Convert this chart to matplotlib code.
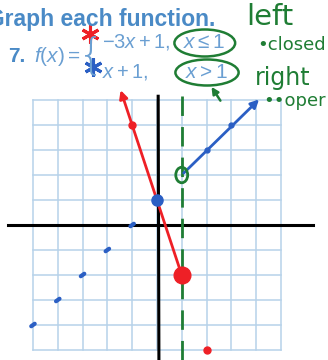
import matplotlib
matplotlib.use("Agg")
import matplotlib.pyplot as plt
from matplotlib.patches import Ellipse, FancyArrowPatch

plt.rcParams['mathtext.fontset'] = 'custom'
plt.rcParams['mathtext.rm'] = 'Liberation Sans'
plt.rcParams['mathtext.it'] = 'Liberation Sans:italic'

# piece 1: f(x) = -3x + 1 for x <= 1 (red)
red_line_x = [-1.5, -1, 0, 1]
red_line_y = [5.5, 4, 1, -2]
red_small_x = [-1, 2]
red_small_y = [4, -5]
red_big = (1, -2)

# piece 2: f(x) = x + 1 for x > 1 (blue)
blue_line_x = [1, 2, 3, 4.2]
blue_line_y = [2, 3, 4, 5.1]
blue_small_x = [2, 3]
blue_small_y = [3, 4]
blue_dash_x = [-1, -2, -3, -4, -5]
blue_dash_y = [0, -1, -2, -3, -4]
blue_big = (0, 1)

grid_ticks = list(range(-5, 6))
boundary_x = 1
open_point = (1, 2)

TEXT_BLUE = '#4a8ac6'
MATH_BLUE = '#6a9fd2'
GRID = '#b7d2ea'
RED = '#ee2026'
BLUE = '#2b5fc4'
GREEN = '#1f7d34'

fig = plt.figure(figsize=(3.28, 3.6), dpi=100)
ax = fig.add_axes([0, 0, 1, 1])
ax.set_xlim(-6.33, 6.9)
ax.set_ylim(-5.4, 9.0)
ax.axis('off')

# graph paper
for g in grid_ticks:
    ax.plot([g, g], [-5, 5], color=GRID, lw=1.1, zorder=1)
    ax.plot([-5, 5], [g, g], color=GRID, lw=1.1, zorder=1)

# hand-drawn axes
ax.plot([-6.0, 6.3], [0, 0], color='black', lw=2.2, zorder=3)
ax.plot([0.05, 0.08], [5.15, -5.4], color='black', lw=2.2, zorder=3)

# boundary x = 1
ax.plot([boundary_x, boundary_x], [5.15, -5.4], color=GREEN, lw=2.0,
        dashes=(7, 4), zorder=4)

# red piece with arrow
ax.plot(red_line_x[1:], red_line_y[1:], color=RED, lw=2.0, zorder=5)
ax.add_patch(FancyArrowPatch((red_line_x[1], red_line_y[1]),
                             (red_line_x[0], red_line_y[0]),
                             arrowstyle='-|>', mutation_scale=12,
                             color=RED, lw=2.0, zorder=5))
ax.plot(red_small_x, red_small_y, 'o', color=RED, ms=5, zorder=6)
ax.plot([red_big[0]], [red_big[1]], 'o', color=RED, ms=12, zorder=6)

# blue piece with arrow
ax.add_patch(FancyArrowPatch((blue_line_x[0], blue_line_y[0]),
                             (blue_line_x[-1], blue_line_y[-1]),
                             arrowstyle='-|>', mutation_scale=12,
                             color=BLUE, lw=2.0, zorder=5))
ax.plot(blue_small_x, blue_small_y, 'o', color=BLUE, ms=3.5, zorder=6)
ax.plot([blue_big[0]], [blue_big[1]], 'o', color=BLUE, ms=8, zorder=6)
for bx, by in zip(blue_dash_x, blue_dash_y):
    ax.plot([bx - 0.07, bx + 0.07], [by - 0.05, by + 0.05], color=BLUE,
            lw=3, solid_capstyle='round', zorder=6)

# open endpoint
ax.add_patch(Ellipse(open_point, 0.48, 0.62, fill=False, ec=GREEN, lw=2.0,
                     zorder=7))

# printed heading and function
ax.text(-6.86, 8.22, 'Graph each function.', color=TEXT_BLUE, fontsize=16.5,
        fontweight='bold', family='Liberation Sans', va='center', ha='left')
ax.text(-6.0, 6.72, '7.', color=TEXT_BLUE, fontsize=15, fontweight='bold',
        family='Liberation Sans', va='center', ha='left')
ax.text(-4.95, 6.72, r'$f(x) =$', color=MATH_BLUE, fontsize=15,
        va='center', ha='left')
ax.text(-3.2, 6.75, '{', color=MATH_BLUE, fontsize=30, va='center',
        ha='left', family='DejaVu Sans', fontweight='light')
ax.text(-2.2, 7.3, r'$-3x + 1,$', color=MATH_BLUE, fontsize=14.5,
        va='center', ha='left')
ax.text(1.05, 7.3, r'$x \leq 1$', color=MATH_BLUE, fontsize=15,
        va='center', ha='left')
ax.text(-2.2, 6.1, r'$x + 1,$', color=MATH_BLUE, fontsize=14.5,
        va='center', ha='left')
ax.text(1.15, 6.1, r'$x > 1$', color=MATH_BLUE, fontsize=15,
        va='center', ha='left')

# asterisks marking each piece
ax.plot([-2.7], [7.62], marker=(6, 2, 0), color=RED, ms=13, mew=2.2)
ax.plot([-2.57], [6.3], marker=(6, 2, 0), color=BLUE, ms=13, mew=2.2)

# circled conditions
ax.add_patch(Ellipse((1.93, 7.28), 2.45, 1.08, fill=False, ec=GREEN, lw=1.8))
ax.add_patch(Ellipse((2.02, 6.1), 2.55, 1.04, fill=False, ec=GREEN, lw=1.8))
ax.add_patch(FancyArrowPatch((2.62, 4.88), (2.14, 5.62), arrowstyle='-|>',
                             mutation_scale=10, color=GREEN, lw=1.8))

# notes
ax.text(3.6, 8.3, 'left', color=GREEN, fontsize=21, va='center', ha='left',
        family='DejaVu Sans')
ax.text(4.05, 7.2, '\u2022closed', color=GREEN, fontsize=13, va='center',
        ha='left', family='DejaVu Sans')
ax.text(3.95, 5.9, 'right', color=GREEN, fontsize=17, va='center',
        ha='left', family='DejaVu Sans')
ax.text(4.3, 4.95, '\u2022\u2022oper', color=GREEN, fontsize=13,
        va='center', ha='left', family='DejaVu Sans')

fig.savefig('out.png', dpi=100)
